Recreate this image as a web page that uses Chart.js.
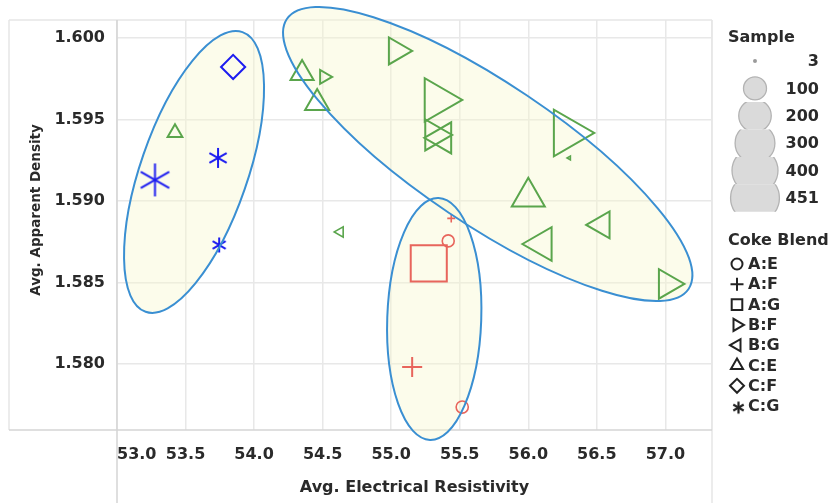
<!DOCTYPE html>
<html>
<head>
<meta charset="utf-8">
<script src="https://cdn.jsdelivr.net/npm/chart.js@4.4.1/dist/chart.umd.min.js"></script>
<style>
  html, body { margin: 0; padding: 0; background: #ffffff; }
  canvas { display: block; }
</style>
</head>
<body>
<canvas id="chart" width="830" height="503"></canvas>
<script>
// ---- data ---------------------------------------------------------------
const blendNames = ['A:E', 'A:F', 'A:G', 'B:F', 'B:G', 'C:E', 'C:F', 'C:G'];

const pointBlend  = ['C:F','C:G','C:G','C:G','C:E','C:E','B:F','C:E','B:G','B:F','B:F','B:F',
                     'B:G','B:F','B:G','C:E','B:G','B:G','B:F','A:F','A:E','A:G','A:F','A:E'];
const resistivity = [53.847, 53.277, 53.737, 53.745, 53.423, 54.350, 54.511, 54.460, 54.628, 55.040, 55.336, 55.314,
                     55.372, 56.285, 56.299, 56.000, 56.099, 56.536, 57.015, 55.438, 55.416, 55.274, 55.153, 55.518];
const density     = [1.59822, 1.59129, 1.59264, 1.58730, 1.59419, 1.59783, 1.59761, 1.59601, 1.58810, 1.59920, 1.59620, 1.59405,
                     1.59387, 1.59417, 1.59264, 1.59025, 1.58736, 1.58853, 1.58491, 1.58893, 1.58755, 1.58617, 1.57982, 1.57736];
const sampleSize  = [110, 205, 75, 43, 45, 110, 40, 120, 22, 150, 390, 200,
                     200, 451, 3, 225, 235, 150, 180, 12, 27, 246, 76, 28];
const cluster     = [1, 1, 1, 1, 2, 2, 2, 2, 2, 2, 2, 2,
                     2, 2, 2, 2, 2, 2, 2, 3, 3, 3, 3, 3];

const xTickValues = [53.0, 53.5, 54.0, 54.5, 55.0, 55.5, 56.0, 56.5, 57.0];
const yTickValues = [1.580, 1.585, 1.590, 1.595, 1.600];
const sizeLegendValues = [3, 100, 200, 300, 400, 451];

// ---- appearance ---------------------------------------------------------
const X_MIN = 53.0, X_MAX = 57.34;
const Y_MIN = 1.57595, Y_MAX = 1.6011;
const FONT = '"DejaVu Sans", "Open Sans", sans-serif';
const TEXT = '#2a2a2a';
const clusterColors = { 1: '#1c1cf0', 2: '#5aa54c', 3: '#e8655c' };

// marker shape per blend; size grows with the square root of the sample count
const blendShapes = {
  'A:E': { style: 'circle',   rotation: 0,   k: 1.15 },
  'A:F': { style: 'cross',    rotation: 0,   k: 1.15 },
  'A:G': { style: 'rect',     rotation: 0,   k: 1.626 },
  'B:F': { style: 'triangle', rotation: 90,  k: 1.27 },
  'B:G': { style: 'triangle', rotation: -90, k: 1.27 },
  'C:E': { style: 'triangle', rotation: 0,   k: 1.27 },
  'C:F': { style: 'rectRot',  rotation: 0,   k: 1.15 },
  'C:G': { style: 'asterisk', rotation: 0,   k: 1.15 }
};

// highlighted groups: centre in data units, half-axes in pixels, tilt in degrees
const groupRings = [
  { cx: 53.562, cy: 1.59178, rx: 148, ry: 53.5, angle: -70.9 },
  { cx: 55.704, cy: 1.59288, rx: 242, ry: 70.5, angle: 33.9 },
  { cx: 55.314, cy: 1.58276, rx: 121, ry: 47,   angle: -88 }
];

// six-armed asterisk drawn on a small canvas, used as a point style
const asteriskCache = {};
function asteriskImage(arm, color, lw) {
  const key = arm.toFixed(2) + color + lw;
  if (asteriskCache[key]) return asteriskCache[key];
  const size = Math.ceil(arm * 2 + lw * 2 + 2);
  const cv = document.createElement('canvas');
  cv.width = size; cv.height = size;
  const c = cv.getContext('2d');
  c.strokeStyle = color; c.lineWidth = lw; c.lineCap = 'butt';
  const m = size / 2;
  for (let i = 0; i < 3; i++) {
    const a = Math.PI / 2 + i * Math.PI / 3;
    c.beginPath();
    c.moveTo(m - Math.cos(a) * arm, m - Math.sin(a) * arm);
    c.lineTo(m + Math.cos(a) * arm, m + Math.sin(a) * arm);
    c.stroke();
  }
  asteriskCache[key] = cv;
  return cv;
}

// one dataset per coke blend
const datasets = blendNames.map(name => {
  const shape = blendShapes[name];
  const pts = [];
  pointBlend.forEach((b, i) => {
    if (b === name) pts.push({ x: resistivity[i], y: density[i], n: sampleSize[i], g: cluster[i] });
  });
  const radiusOf = ctx => (ctx.raw ? shape.k * Math.sqrt(ctx.raw.n) : 5);
  const colorOf = ctx => (ctx.raw ? clusterColors[ctx.raw.g] : '#333');
  return {
    label: name,
    data: pts,
    showLine: false,
    backgroundColor: 'rgba(0,0,0,0)',
    borderColor: colorOf,
    pointBorderWidth: ctx => (ctx.raw && ctx.raw.n < 30 ? 1.6 : 2),
    pointRadius: radiusOf,
    pointHoverRadius: radiusOf,
    pointRotation: shape.rotation,
    pointStyle: shape.style === 'asterisk'
      ? ctx => asteriskImage(radiusOf(ctx), colorOf(ctx), 2)
      : shape.style
  };
});

// pane borders, the vertical axis title and the filled group outlines
const frameAndRings = {
  id: 'frameAndRings',
  beforeDatasetsDraw(chart) {
    const { ctx, chartArea: a, scales: { x, y } } = chart;
    ctx.save();
    ctx.lineWidth = 1.5;
    ctx.strokeStyle = '#e6e6e6';
    ctx.beginPath();
    ctx.moveTo(9, a.top); ctx.lineTo(a.right, a.top);
    ctx.moveTo(9, a.top); ctx.lineTo(9, a.bottom);
    ctx.moveTo(a.right, a.top); ctx.lineTo(a.right, chart.height);
    ctx.stroke();
    ctx.strokeStyle = '#d5d5d5';
    ctx.beginPath();
    ctx.moveTo(9, a.bottom); ctx.lineTo(a.right, a.bottom);
    ctx.moveTo(a.left, a.top); ctx.lineTo(a.left, chart.height);
    ctx.stroke();

    ctx.save();
    ctx.translate(36, 210);
    ctx.rotate(-Math.PI / 2);
    ctx.font = 'bold 13.5px ' + FONT;
    ctx.fillStyle = TEXT;
    ctx.textAlign = 'center';
    ctx.textBaseline = 'middle';
    ctx.fillText('Avg. Apparent Density', 0, 0);
    ctx.restore();

    ctx.fillStyle = 'rgba(248, 248, 205, 0.4)';
    groupRings.forEach(r => {
      ctx.beginPath();
      ctx.ellipse(x.getPixelForValue(r.cx), y.getPixelForValue(r.cy), r.rx, r.ry, r.angle * Math.PI / 180, 0, Math.PI * 2);
      ctx.fill();
    });
    ctx.restore();
  },
  afterDatasetsDraw(chart) {
    const { ctx, scales: { x, y } } = chart;
    ctx.save();
    ctx.strokeStyle = '#3a8fd2';
    ctx.lineWidth = 2;
    groupRings.forEach(r => {
      ctx.beginPath();
      ctx.ellipse(x.getPixelForValue(r.cx), y.getPixelForValue(r.cy), r.rx, r.ry, r.angle * Math.PI / 180, 0, Math.PI * 2);
      ctx.stroke();
    });
    ctx.restore();
  }
};

// size and shape legends in the right column
const sideLegends = {
  id: 'sideLegends',
  afterDraw(chart) {
    const ctx = chart.ctx;
    ctx.save();
    ctx.fillStyle = TEXT;
    ctx.textBaseline = 'middle';
    ctx.font = 'bold 16px ' + FONT;
    ctx.textAlign = 'left';
    ctx.fillText('Sample', 728, 38);

    const rowH = 27.4;
    sizeLegendValues.forEach((v, i) => {
      const cy = 61 + i * rowH;
      ctx.save();
      ctx.beginPath();
      ctx.rect(725, cy - rowH / 2, 60, rowH);
      ctx.clip();
      ctx.beginPath();
      ctx.arc(755, cy, 1.15 * Math.sqrt(v), 0, Math.PI * 2);
      ctx.fillStyle = v < 10 ? '#9a9a9a' : '#dadada';
      ctx.fill();
      if (v >= 10) {
        ctx.strokeStyle = '#b3b3b3';
        ctx.lineWidth = 1.3;
        ctx.stroke();
      }
      ctx.restore();
      ctx.textAlign = 'right';
      ctx.fillStyle = TEXT;
      ctx.fillText(String(v), 819, cy + 1);
    });

    ctx.textAlign = 'left';
    ctx.fillText('Coke Blend', 728, 241);
    const draw = Chart.helpers.drawPoint;
    blendNames.forEach((name, i) => {
      const cy = 264 + i * 20.3;
      const shape = blendShapes[name];
      ctx.strokeStyle = '#222222';
      ctx.fillStyle = 'rgba(0,0,0,0)';
      ctx.lineWidth = 2;
      if (shape.style === 'asterisk') {
        ctx.drawImage(asteriskImage(6, '#222222', 2.2), 737 - 8, cy - 8);
      } else {
        const r = { circle: 5.5, cross: 6.5, rect: 7.5, triangle: 7, rectRot: 7 }[shape.style];
        draw(ctx, { pointStyle: shape.style, rotation: shape.rotation, radius: r, borderWidth: 2 }, 737, cy);
      }
      ctx.fillStyle = TEXT;
      ctx.fillText(name, 748, cy + 1);
    });
    ctx.restore();
  }
};

// the tick labels may overhang the plot, so the pane keeps its exact size
const noOverhang = s => { s.paddingTop = 0; s.paddingBottom = 0; s.paddingLeft = 0; s.paddingRight = 0; };

new Chart(document.getElementById('chart'), {
  type: 'scatter',
  data: { datasets },
  options: {
    responsive: false,
    animation: false,
    events: [],
    layout: { autoPadding: false, padding: { top: 20, right: 118, left: 0, bottom: 0 } },
    plugins: { legend: { display: false }, tooltip: { enabled: false } },
    scales: {
      x: {
        type: 'linear',
        min: X_MIN,
        max: X_MAX,
        afterBuildTicks: s => { s.ticks = xTickValues.concat([X_MAX]).map(v => ({ value: v })); },
        afterFit: s => { s.height = 73; noOverhang(s); },
        grid: { color: '#e8e8e8', lineWidth: 1.5, drawTicks: false },
        border: { display: false },
        ticks: {
          autoSkip: false,
          maxRotation: 0,
          align: 'inner',
          padding: 15,
          color: TEXT,
          font: { family: FONT, size: 16, weight: 'bold' },
          callback: v => (v === X_MAX ? '' : v.toFixed(1))
        },
        title: {
          display: true,
          text: 'Avg. Electrical Resistivity',
          color: TEXT,
          font: { family: FONT, size: 16, weight: 'bold' },
          padding: { top: 0, bottom: 6 }
        }
      },
      y: {
        type: 'linear',
        min: Y_MIN,
        max: Y_MAX,
        afterBuildTicks: s => { s.ticks = yTickValues.map(v => ({ value: v })); },
        afterFit: s => { s.width = 117; noOverhang(s); },
        grid: { color: '#e8e8e8', lineWidth: 1.5, drawTicks: false },
        border: { display: false },
        ticks: {
          padding: 12,
          color: TEXT,
          font: { family: FONT, size: 16, weight: 'bold' },
          callback: v => v.toFixed(3)
        },
        title: { display: false }
      }
    }
  },
  plugins: [frameAndRings, sideLegends]
});
</script>
</body>
</html>
